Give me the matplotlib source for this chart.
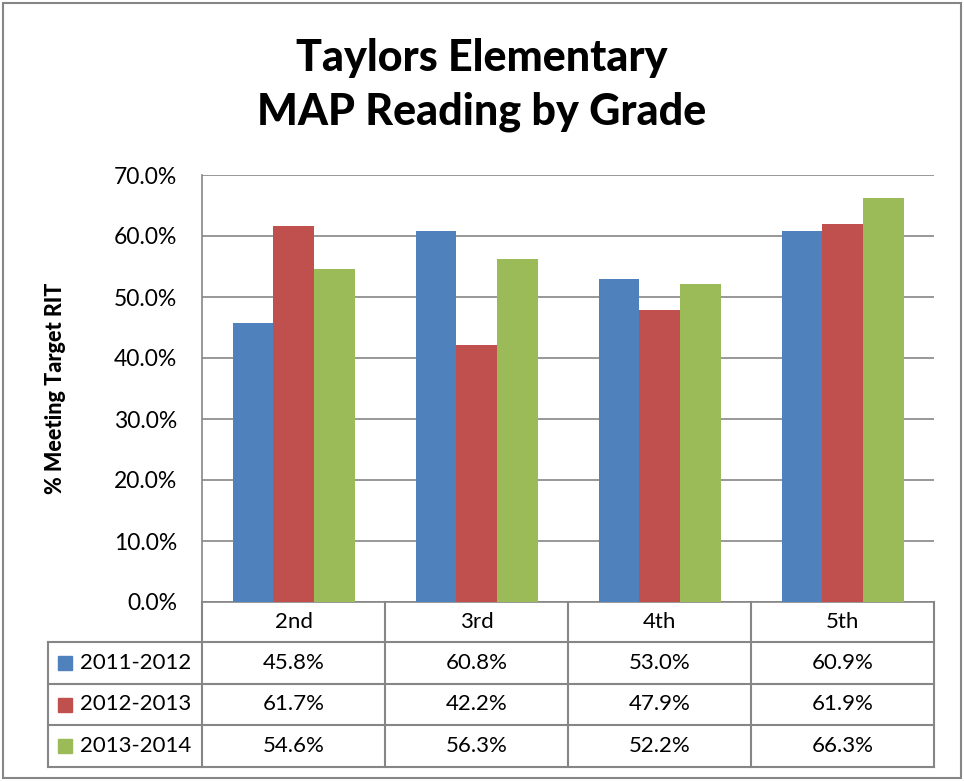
import numpy as np
import matplotlib
matplotlib.use('Agg')
import matplotlib.pyplot as plt
from matplotlib.ticker import PercentFormatter

# data
grades = ['2nd', '3rd', '4th', '5th']
years = ['2011-2012', '2012-2013', '2013-2014']
y2011 = [45.8, 60.8, 53.0, 60.9]
y2012 = [61.7, 42.2, 47.9, 61.9]
y2013 = [54.6, 56.3, 52.2, 66.3]
series = [y2011, y2012, y2013]
colors = ['#4F81BD', '#C0504D', '#9BBB59']

plt.rcParams['font.family'] = ['Lato', 'DejaVu Sans']
W, H = 964, 781
fig = plt.figure(figsize=(W / 100, H / 100), dpi=100)

# plot area in pixels
L, R, T, B = 202, 934, 175, 602
ax = fig.add_axes([L / W, 1 - B / H, (R - L) / W, (B - T) / H])

x = np.arange(len(grades))
w = 1 / 4.5
for i, vals in enumerate(series):
    ax.bar(x + (i - 1) * w, vals, w, color=colors[i], label=years[i], zorder=3)

ax.set_xlim(-0.5, len(grades) - 0.5)
ax.set_ylim(0, 70)
ax.set_yticks(np.arange(0, 71, 10))
ax.yaxis.set_major_formatter(PercentFormatter(decimals=1))
ax.tick_params(axis='y', length=0, labelsize=16.5, pad=18)
ax.set_xticks([])
ax.grid(axis='y', color='#868686', lw=1.2, zorder=0)
for s in ['top', 'right']:
    ax.spines[s].set_visible(False)
for s in ['left', 'bottom']:
    ax.spines[s].set_color('#868686')
    ax.spines[s].set_linewidth(1.2)
ax.set_ylabel('% Meeting Target RIT', fontsize=15.5, fontweight='black', labelpad=34)

fig.text(0.5, 1 - 58 / H, 'Taylors Elementary', ha='center', va='center',
         fontsize=31, fontweight='black')
fig.text(0.5, 1 - 112 / H, 'MAP Reading by Grade', ha='center', va='center',
         fontsize=31, fontweight='black')

# data table below the axis
tab = fig.add_axes([0, 0, 1, 1], facecolor='none')
tab.set_xlim(0, W)
tab.set_ylim(H, 0)
tab.axis('off')
gc = '#868686'
col_x = np.linspace(L, R, len(grades) + 1)
row_y = [602, 642, 684, 725, 767]
left_x = 48
# vertical lines
for cx in col_x:
    tab.plot([cx, cx], [row_y[0], row_y[-1]], color=gc, lw=1.5)
tab.plot([left_x, left_x], [row_y[1], row_y[-1]], color=gc, lw=1.5)
# horizontal lines
for ry in row_y[1:]:
    tab.plot([left_x, R], [ry, ry], color=gc, lw=1.5)
# header
for j, g in enumerate(grades):
    tab.text((col_x[j] + col_x[j + 1]) / 2, (row_y[0] + row_y[1]) / 2, g,
             ha='center', va='center', fontsize=16)
# rows
for i, vals in enumerate(series):
    cy = (row_y[i + 1] + row_y[i + 2]) / 2
    tab.add_patch(plt.Rectangle((58, cy - 7), 14, 14, color=colors[i]))
    tab.text(80, cy, years[i], ha='left', va='center', fontsize=16)
    for j, v in enumerate(vals):
        tab.text((col_x[j] + col_x[j + 1]) / 2, cy, f'{v:.1f}%',
                 ha='center', va='center', fontsize=16)

# outer chart border
tab.add_patch(plt.Rectangle((3, 3), W - 6, H - 6, fill=False, ec=gc, lw=1.5))

fig.savefig('out.png', dpi=100)
